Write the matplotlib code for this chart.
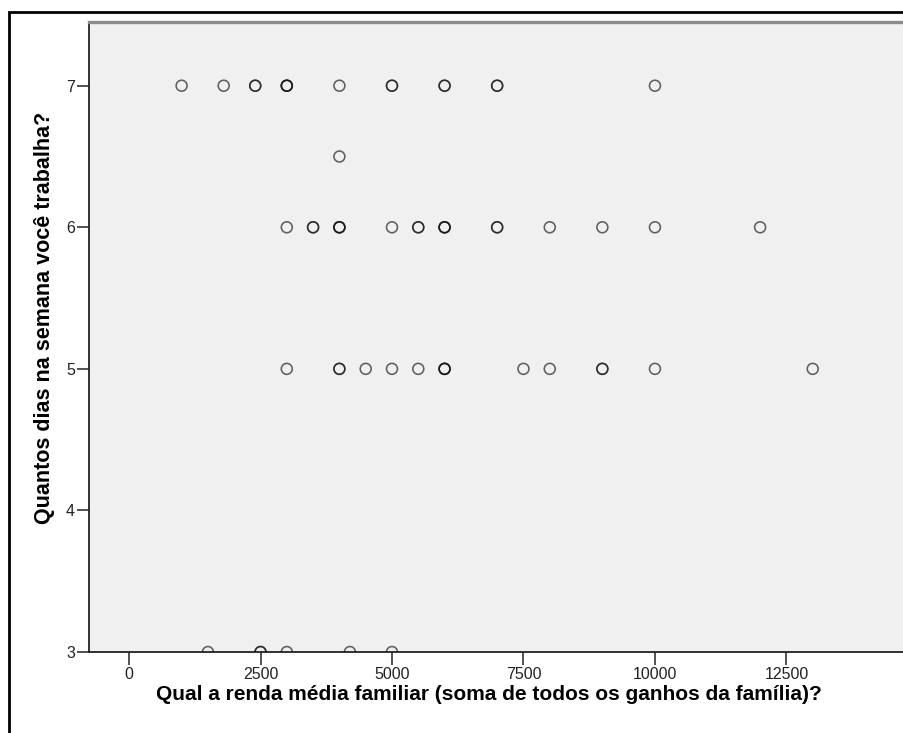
import numpy as np
import matplotlib
matplotlib.use("Agg")
import matplotlib.pyplot as plt
from matplotlib.patches import Rectangle

plt.rcParams['font.family'] = ['Liberation Sans Narrow', 'Liberation Sans', 'DejaVu Sans']

# renda familiar (x) e dias trabalhados (y); repetidos = casos sobrepostos
renda_7 = [1000, 1800, 2400, 2400, 3000, 3000, 3000, 4000, 5000, 5000, 6000, 6000,
           7000, 7000, 10000]
renda_65 = [4000]
renda_6 = [3000, 3500, 3500, 4000, 4000, 4000, 5000, 5500, 5500, 6000, 6000, 6000,
           7000, 7000, 8000, 9000, 10000, 12000]
renda_5 = [3000, 4000, 4000, 4500, 5000, 5500, 6000, 6000, 6000, 7500, 8000,
           9000, 9000, 10000, 13000]
renda_3 = [1500, 2500, 2500, 3000, 4200, 5000]

x_ticks = [0, 2500, 5000, 7500, 10000, 12500]
y_ticks = [3, 4, 5, 6, 7]

renda = renda_7 + renda_65 + renda_6 + renda_5 + renda_3
dias = ([7] * len(renda_7) + [6.5] * len(renda_65) + [6] * len(renda_6)
        + [5] * len(renda_5) + [3] * len(renda_3))

W, H = 904, 733
fig = plt.figure(figsize=(W / 100, H / 100), dpi=100)

# moldura externa
fig.patches.append(Rectangle((9 / W, -0.05), 1.2, 1 - 12 / H + 0.05,
                             transform=fig.transFigure, fill=False,
                             edgecolor='black', linewidth=2.0))

ax = fig.add_axes([89 / W, 1 - 652 / H, (W - 89) / W + 0.002, (652 - 22) / H])
ax.set_facecolor('#f0f0f0')

ax.scatter(renda, dias, s=62, facecolors='none', edgecolors='#111111',
           linewidths=1.15, alpha=0.65, zorder=3)

ax.set_xlim(-761, 14770)
ax.set_ylim(3, 7.45)
ax.set_xticks(x_ticks)
ax.set_yticks(y_ticks)
ax.tick_params(axis='x', direction='out', length=9, width=1.2, color='#333333',
               labelsize=11.5, labelcolor='#222222', pad=2)
ax.tick_params(axis='y', direction='out', length=9, width=1.2, color='#333333',
               labelsize=11.5, labelcolor='#222222', pad=1)

for side in ['left', 'bottom']:
    ax.spines[side].set_color('#222222')
    ax.spines[side].set_linewidth(1.3)
ax.spines['top'].set_color('#8c8c8c')
ax.spines['top'].set_linewidth(2.4)
ax.spines['right'].set_visible(False)

ax.set_xlabel('Qual a renda média familiar (soma de todos os ganhos da família)?',
              fontsize=15, fontweight='bold')
ax.set_ylabel('Quantos dias na semana você trabalha?',
              fontsize=15.5, fontweight='bold')
ax.yaxis.set_label_coords(-0.042, 0.53)
ax.xaxis.set_label_coords(0.49, -0.052)

fig.savefig('out.png', dpi=100)
